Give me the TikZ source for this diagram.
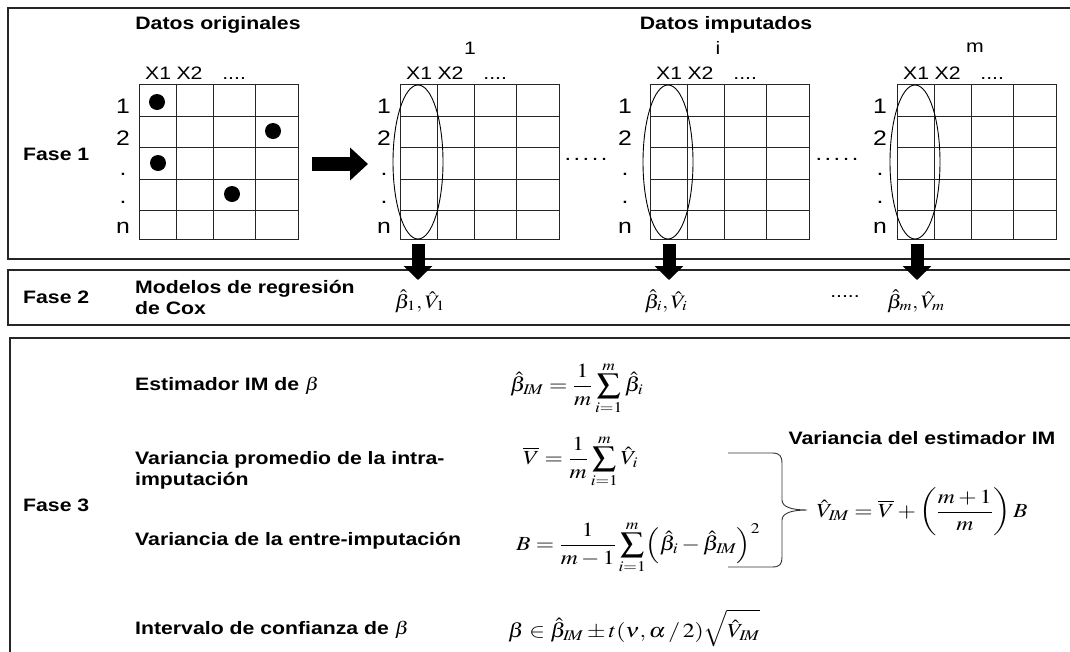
\documentclass[tikz,border=0pt]{standalone}
\usepackage{mathptmx}
\usepackage[no-math]{fontspec}
\setsansfont[FakeStretch=1.18]{Liberation Sans}
\usetikzlibrary{arrows.meta}
\newcommand\mx[1]{\scalebox{1.18}[1]{$\displaystyle #1$}}
\tikzset{
  frame/.style={line width=1.3pt, draw=black!85},
  gridline/.style={line width=0.9pt, draw=black!85},
  lab/.style={font=\sffamily\bfseries\fontsize{18}{21}\selectfont, inner sep=0pt, align=left},
  rowlab/.style={font=\sffamily\fontsize{21}{25}\selectfont, inner sep=0pt, anchor=base},
  hdr/.style={font=\sffamily\fontsize{18}{20}\selectfont, inner sep=0pt},
  mth/.style={font=\fontsize{20}{24}\selectfont, inner sep=0pt},
  bigarrow/.style={line width=13pt, -{Triangle[width=28pt,length=14pt]}},
  brace/.style={line width=0.9pt, draw=black!80},
}
\begin{document}
\begin{tikzpicture}[x=1pt,y=-1pt]
\useasboundingbox (0,0) rectangle (1070,651);
\clip (0,0) rectangle (1070,651);
\fill[white] (0,0) rectangle (1070,651);
% frames
\draw[frame] (8,8) rectangle (1090,259);
\draw[frame] (8,270) rectangle (1090,325);
\draw[frame] (10,338) rectangle (1090,680);
% titles
\node[lab] (torig) at (218,25) {Datos originales};
\node[lab] (timp) at (726,25) {Datos imputados};
\node[hdr] (lab1) at (470,48) {1};
\node[hdr] (labi) at (718,48) {i};
\node[hdr] (labm) at (975,48) {m};
\node[lab, anchor=west] (fase1) at (23,154) {Fase 1};
% grids
\foreach \gx/\off/\nm in {139/16/g0, 400/16/g1, 650/25/g2, 897/17/g3}{
  \draw[gridline] (\gx,84) rectangle (\gx+159,239);
  \foreach \cx in {37,74,116}{ \draw[gridline] (\gx+\cx,84) -- (\gx+\cx,239); }
  \foreach \ry in {116,147,179,210}{ \draw[gridline] (\gx,\ry) -- (\gx+159,\ry); }
  \node[hdr, anchor=base west] (\nm hdr) at (\gx+6,79) {X1\hspace{0.3em}X2\hspace{1.1em}....};
  \node[rowlab] (\nm r1) at (\gx-\off,113) {1};
  \node[rowlab] (\nm r2) at (\gx-\off,145) {2};
  \node[rowlab] (\nm r3) at (\gx-\off,175) {.};
  \node[rowlab] (\nm r4) at (\gx-\off,203) {.};
  \node[rowlab] (\nm r5) at (\gx-\off,233) {n};
}
\foreach \gx in {400,650,897}{
  \draw[line width=0.9pt] (\gx+18,162) ellipse [x radius=25pt, y radius=77pt];
}
% missing values
\foreach \px/\py in {157/102, 273/131, 158/163, 232/194}{
  \fill (\px,\py) circle [radius=8pt];
}
% dots between grids
\node[hdr, font=\sffamily\fontsize{20}{22}\selectfont] (dd1) at (586,159) {.\kern2.5pt.\kern2.5pt.\kern2.5pt.\kern2.5pt.};
\node[hdr, font=\sffamily\fontsize{20}{22}\selectfont] (dd2) at (837,159) {.\kern2.5pt.\kern2.5pt.\kern2.5pt.\kern2.5pt.};
% big right arrow
\coordinate (ra1) at (312,164);
\coordinate (ra2) at (368,164);
\draw[line width=14pt, -{Triangle[width=32pt,length=18pt]}] (ra1) -- (ra2);
% Fase 2
\node[lab, anchor=west] (fase2) at (23,297) {Fase 2};
\node[lab, anchor=west] (modelos) at (135,297) {Modelos de regresión\\de Cox};
\node[mth, font=\fontsize{19}{22}\selectfont] (b1) at (420,301) {\mx{\hat\beta_1,\hat V_1}};
\node[mth, font=\fontsize{19}{22}\selectfont] (bi) at (666,301) {\mx{\hat\beta_i,\hat V_i}};
\node[hdr, font=\sffamily\fontsize{18}{20}\selectfont] (dd3) at (845,297) {.....};
\node[mth, font=\fontsize{19}{22}\selectfont] (bm) at (916,301) {\mx{\hat\beta_m,\hat V_m}};
% down arrows
\coordinate (d1s) at (418,244); \coordinate (d1e) at (418,280);
\coordinate (dis) at (669,244); \coordinate (die) at (669,280);
\coordinate (dms) at (917,244); \coordinate (dme) at (917,280);
\draw[bigarrow] (d1s) -- (d1e);
\draw[bigarrow] (dis) -- (die);
\draw[bigarrow] (dms) -- (dme);
% Fase 3
\node[lab, anchor=west] (fase3) at (23,505) {Fase 3};
\node[lab, anchor=west] (est) at (135,386) {Estimador IM de \mx{\beta}};
\node[lab, anchor=west] (varprom) at (135,470) {Variancia promedio de la intra-\\imputación};
\node[lab, anchor=west] (varentre) at (135,541) {Variancia de la entre-imputación};
\node[lab, anchor=west] (interv) at (135,630) {Intervalo de confianza de \mx{\beta}};
\node[mth, anchor=west] (fest) at (510,388) {\mx{\hat\beta_{I\!M}=\frac{1}{m}\sum_{i=1}^{m}\hat\beta_i}};
\node[mth, anchor=west] (fvbar) at (523,461) {\mx{\overline{V}=\frac{1}{m}\sum_{i=1}^{m}\hat V_i}};
\node[mth, anchor=west] (fB) at (516,547) {\mx{B=\frac{1}{m-1}\sum_{i=1}^{m}\Bigl(\hat\beta_i-\hat\beta_{I\!M}\Bigr)^{2}}};
\node[mth, anchor=west] (fci) at (508,628) {\mx{\beta\in\hat\beta_{I\!M}\pm t(\nu,\alpha\,/\,2)\sqrt{\hat V_{I\!M}}}};
% brace
\draw[brace] (728,453) -- (772,453) .. controls (780,453) and (782,456) .. (782,464)
  -- (782,500) .. controls (782,507) and (792,510) .. (807,510)
  .. controls (792,510) and (782,513) .. (782,520)
  -- (782,557) .. controls (782,564) and (780,567) .. (772,567) -- (728,567);
\node[lab] (varim) at (922,438) {Variancia del estimador IM};
\node[mth] (fvim) at (922,512) {\mx{\hat V_{I\!M}=\overline{V}+\left(\frac{m+1}{m}\right)B}};
\end{tikzpicture}
\end{document}
